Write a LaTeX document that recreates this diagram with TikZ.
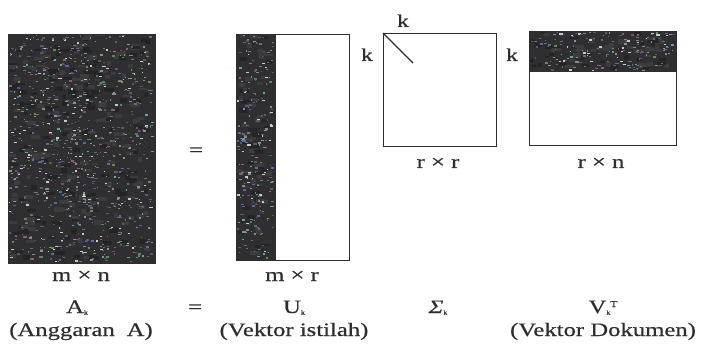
\documentclass[tikz,border=0pt]{standalone}
\usepackage{fontspec}
\setmainfont{Liberation Serif}[FakeStretch=1.3,FakeBold=0.5]
\definecolor{ink}{HTML}{2E2D30}
\definecolor{matbg}{HTML}{2F2E30}
\definecolor{blkA}{HTML}{3C3B3E}
\definecolor{blkB}{HTML}{242325}
\definecolor{spk1}{HTML}{8C8C8C}
\definecolor{spk2}{HTML}{5C5C5E}
\definecolor{spk3}{HTML}{5F8C57}
\definecolor{spk4}{HTML}{6C4F7C}
\definecolor{spk5}{HTML}{5A6C9C}
\definecolor{spk6}{HTML}{6AA2A2}
\definecolor{spk7}{HTML}{CACACA}
\definecolor{spk8}{HTML}{8C5C7C}
\newcommand{\sk}{\raisebox{-1.5pt}{\fontsize{6}{6}\selectfont k}}
% texture: x0 y0 w h nblocks nspecks
\newcommand{\texturebox}[6]{%
  \fill[matbg] (#1,#2) rectangle ++(#3,#4);
  \foreach \i in {1,...,#5}{%
    \pgfmathsetmacro{\bx}{#1+rnd*(#3-10)}%
    \pgfmathsetmacro{\by}{#2+rnd*(#4-5)}%
    \pgfmathsetmacro{\bw}{4+rnd*6}%
    \pgfmathsetmacro{\bh}{2+rnd*3}%
    \pgfmathtruncatemacro{\bc}{random(0,1)}%
    \ifnum\bc=0 \fill[blkA] (\bx,\by) rectangle ++(\bw,\bh);
    \else \fill[blkB] (\bx,\by) rectangle ++(\bw,\bh); \fi
  }
  \foreach \i in {1,...,#6}{%
    \pgfmathsetmacro{\sx}{#1+0.5+rnd*(#3-4)}%
    \pgfmathsetmacro{\sy}{#2+0.5+rnd*(#4-2.5)}%
    \pgfmathsetmacro{\sw}{1+rnd*2.4}%
    \pgfmathtruncatemacro{\sc}{random(1,8)}%
    \fill[spk\sc] (\sx,\sy) rectangle ++(\sw,1.3);
  }
}
\begin{document}
\begin{tikzpicture}[x=1pt,y=-1pt,
  frame/.style={draw=ink, line width=1.4pt, inner sep=0pt, anchor=north west},
  lbl/.style={font=\fontsize{19}{22}\selectfont, text=ink, inner sep=0pt, anchor=base},
  smallk/.style={font=\fontsize{18}{21}\selectfont, text=ink, inner sep=0pt, anchor=base}]
\useasboundingbox (0,0) rectangle (701,355);
\fill[white] (0,0) rectangle (701,355);
\pgfmathsetseed{7}
% dark textured parts
\texturebox{8}{34}{147}{229}{260}{850}
\texturebox{236}{34}{40}{226}{70}{230}
\texturebox{529}{31}{147}{41}{60}{170}
% matrix frames
\node[frame, minimum width=147pt, minimum height=229pt] (A) at (8,34) {};
\node[frame, minimum width=113pt, minimum height=226pt] (U) at (236,34) {};
\node[frame, minimum width=113pt, minimum height=113pt] (S) at (383,33) {};
\node[frame, minimum width=147pt, minimum height=114pt] (V) at (529,31) {};
\coordinate (diagend) at (413,63);
\draw[ink, line width=1.2pt] (S.north west) -- (diagend);
% k labels
\node[smallk] (ktop) at (403,27) {k};
\node[smallk] (kS) at (367,61) {k};
\node[smallk] (kV) at (512,61) {k};
% dimension labels
\node[lbl] (dA) at (81,281) {m × n};
\node[lbl] (dU) at (292,281) {m × r};
\node[lbl] (dS) at (438,168) {r × r};
\node[lbl] (dV) at (601,168) {r × n};
\node[lbl] (eq1) at (196,156) {=};
% equation row
\node[lbl] (Ak) at (77,313) {A\sk};
\node[lbl] (eq2) at (195,313) {=};
\node[lbl] (Uk) at (294,313) {U\sk};
\node[lbl] (Sk) at (438,313) {{\itshape Σ}\sk};
\node[lbl] (Vk) at (603,313) {V\sk\raisebox{6pt}{\fontsize{9}{9}\selectfont T}};
% descriptions
\node[lbl] (dAk) at (81,336) {(Anggaran\hspace{0.3em} A)};
\node[lbl] (dUk) at (294,336) {(Vektor istilah)};
\node[lbl] (dVk) at (603,336) {(Vektor Dokumen)};
\end{tikzpicture}
\end{document}
